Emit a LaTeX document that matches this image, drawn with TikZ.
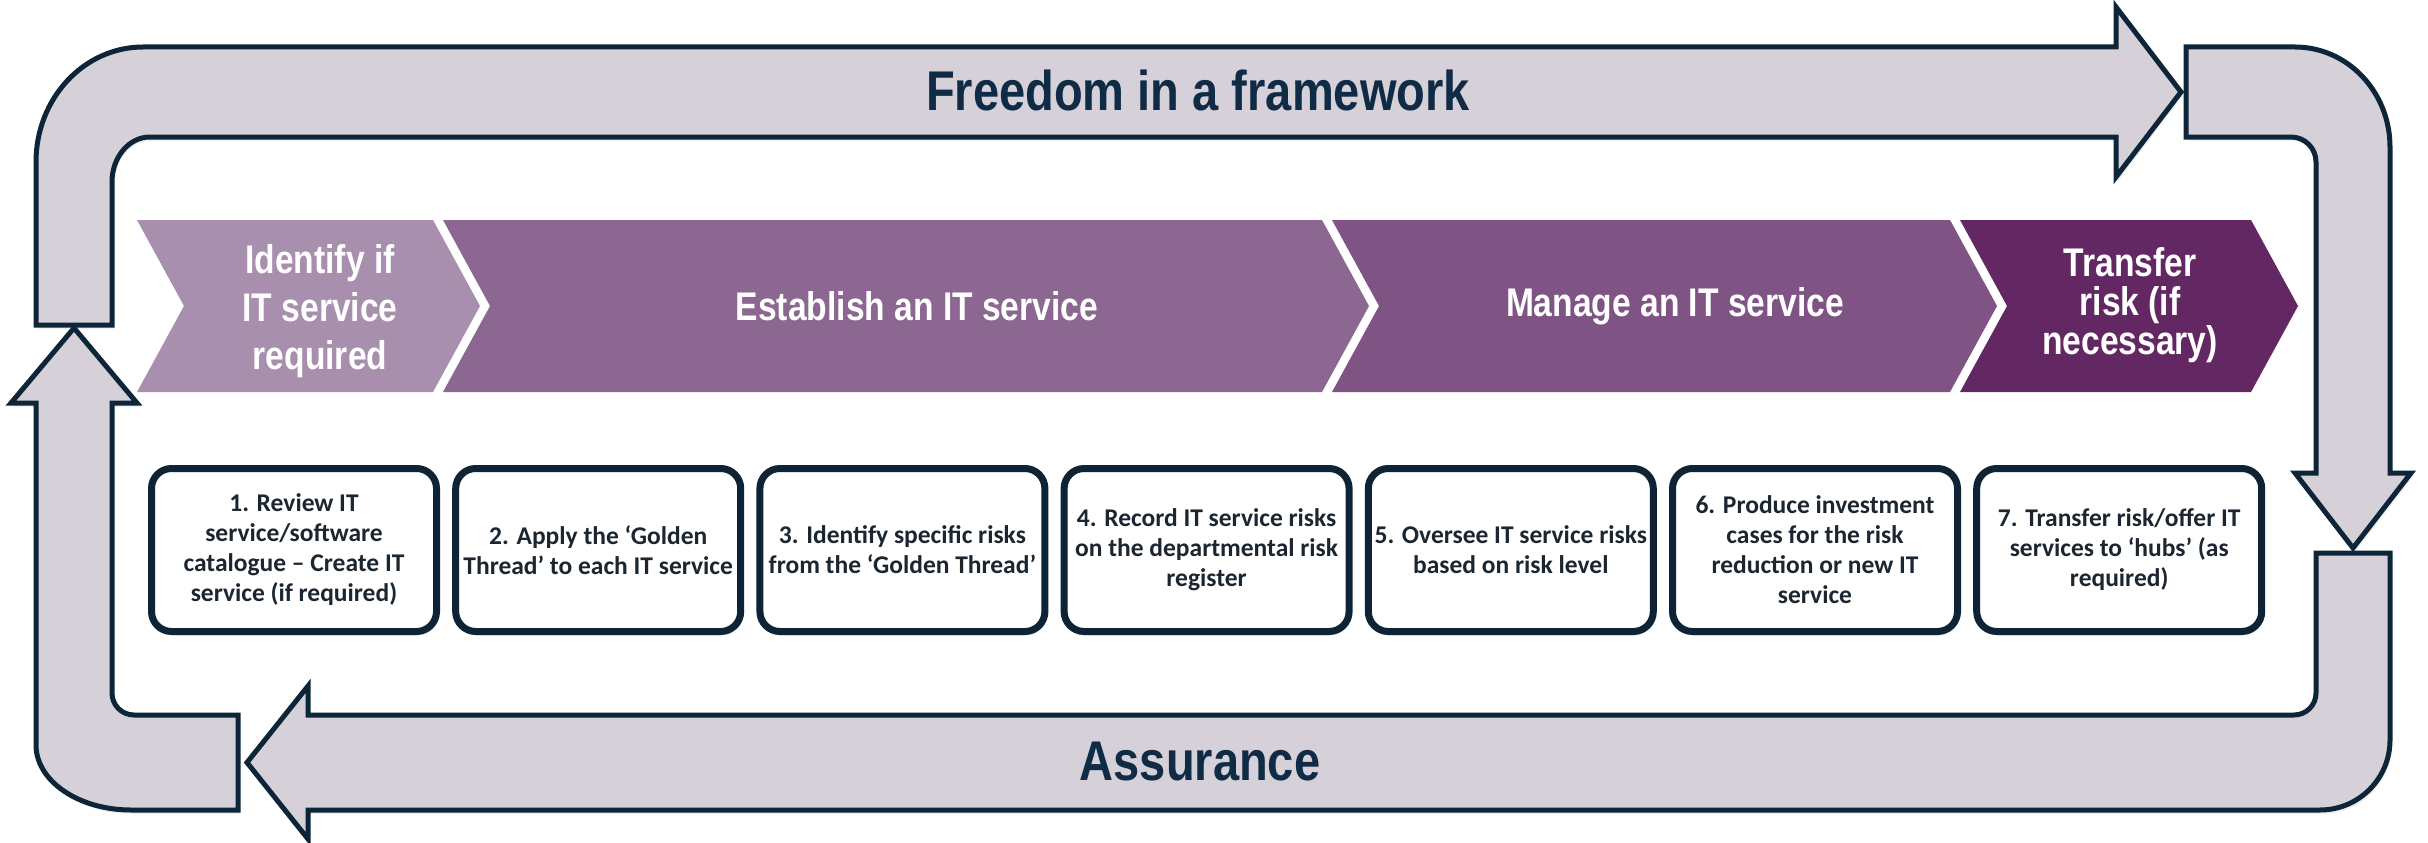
\documentclass[tikz,border=0pt]{standalone}
\usepackage{fontspec}
\usetikzlibrary{shadows}
\setmainfont{Liberation Sans}
\newfontfamily\headfont[FakeStretch=0.84]{Liberation Sans}
\newfontfamily\boxfont{Carlito}
\definecolor{bandfill}{HTML}{D6D0D9}
\definecolor{bandline}{HTML}{0D2538}
\definecolor{chevA}{HTML}{A88FAE}
\definecolor{chevB}{HTML}{8C6791}
\definecolor{chevC}{HTML}{7F5485}
\definecolor{chevD}{HTML}{632864}
\definecolor{titletext}{HTML}{0F2B45}
\definecolor{boxline}{HTML}{0E2336}
\definecolor{boxtext}{HTML}{1C2630}
\begin{document}
\begin{tikzpicture}[x=1pt,y=-1pt,
  softshadow/.style={drop shadow={opacity=0.12,shadow xshift=2pt,shadow yshift=-4pt}},
  band/.style={fill=bandfill,draw=bandline,line width=5pt,line join=miter,softshadow},
  chevlabel/.style={text=white,align=center,inner sep=0pt,
    font=\headfont\bfseries\fontsize{40}{48}\selectfont},
  bandlabel/.style={text=titletext,inner sep=0pt,
    font=\headfont\bfseries\fontsize{56}{60}\selectfont},
  stepbox/.style={rectangle,rounded corners=20pt,draw=boxline,line width=7pt,
    fill=white,minimum width=285pt,minimum height=163pt,inner sep=0pt,softshadow,
    align=center,text=boxtext,font=\boxfont\bfseries\fontsize{25.5}{30}\selectfont}]
\useasboundingbox (0,0) rectangle (2428,843);
\fill[white] (0,0) rectangle (2428,843);

% top band: rises on the left, runs right, ends in an arrowhead
\draw[band] (36,325) -- (36,162) .. controls (36,98.5) and (83.9,47) .. (143,47)
  -- (2116,47) -- (2116,7) -- (2181,92) -- (2116,177) -- (2116,137)
  -- (150,137) .. controls (129,137) and (112,157.1) .. (112,182) -- (112,325) -- cycle;
% right band: turns down, ends in an arrowhead
\draw[band] (2186,47) -- (2295,47) .. controls (2347.5,47) and (2390,91.8) .. (2390,147)
  -- (2390,473) -- (2411,473) -- (2353,548) -- (2295,473) -- (2316,473)
  -- (2316,162) .. controls (2316,148.2) and (2304.8,137) .. (2291,137) -- (2186,137) -- cycle;
% bottom band: turns left, ends in an arrowhead
\draw[band] (2316,553) -- (2390,553) -- (2390,740) .. controls (2390,778.7) and (2358.7,810) .. (2320,810)
  -- (308,810) -- (308,839) -- (247,762.5) -- (308,686) -- (308,715)
  -- (2294,715) .. controls (2306.2,715) and (2316,705.2) .. (2316,693) -- cycle;
% left band: turns up, ends in an arrowhead
\draw[band] (238,715) -- (238,810) -- (131,810) .. controls (78.5,810) and (36,780.9) .. (36,745)
  -- (36,403) -- (11,403) -- (74,328) -- (137,403) -- (112,403)
  -- (112,693) .. controls (112,705.2) and (121.8,715) .. (134,715) -- cycle;

\node[bandlabel] (freedom) at (1198,90) {Freedom in a framework};
\node[bandlabel] (assurance) at (1200,762) {Assurance};

% stage chevrons
\fill[chevA] (137,220) -- (433,220) -- (480,306) -- (433,392) -- (137,392) -- (184,306) -- cycle;
\fill[chevB] (443,220) -- (1322,220) -- (1369,306) -- (1322,392) -- (443,392) -- (490,306) -- cycle;
\fill[chevC] (1332,220) -- (1950,220) -- (1997,306) -- (1950,392) -- (1332,392) -- (1379,306) -- cycle;
\fill[chevD] (1960,220) -- (2251,220) -- (2298,306) -- (2251,392) -- (1960,392) -- (2007,306) -- cycle;

\node[chevlabel] (identify) at (320,311) {Identify if\\IT service\\required};
\node[chevlabel] (establish) at (917,306) {Establish an IT service};
\node[chevlabel] (manage) at (1675,306) {Manage an IT service};
\node[chevlabel,font=\headfont\bfseries\fontsize{40}{39}\selectfont] (transfer) at (2130,305) {Transfer\\risk (if\\necessary)};

% process steps
\node[stepbox] (s1) at (294,550) {1. Review IT\\service/software\\catalogue – Create IT\\service (if required)};
\node[stepbox] (s2) at (598.2,550) {2. Apply the ‘Golden\\Thread’ to each IT service};
\node[stepbox] (s3) at (902.4,550) {3. Identify specific risks\\from the ‘Golden Thread’};
\node[stepbox] (s4) at (1206.6,550) {4. Record IT service risks\\on the departmental risk\\register};
\node[stepbox] (s5) at (1510.8,550) {5. Oversee IT service risks\\based on risk level};
\node[stepbox] (s6) at (1815,550) {6. Produce investment\\cases for the risk\\reduction or new IT\\service};
\node[stepbox] (s7) at (2119.2,550) {7. Transfer risk/offer IT\\services to ‘hubs’ (as\\required)};
\end{tikzpicture}
\end{document}
